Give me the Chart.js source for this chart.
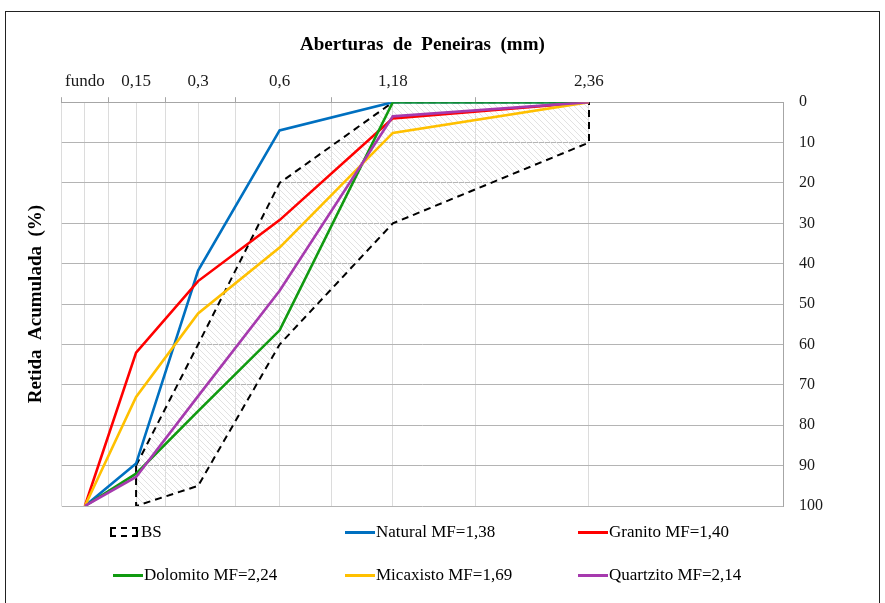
<!DOCTYPE html>
<html>
<head>
<meta charset="utf-8">
<script src="https://cdn.jsdelivr.net/npm/chart.js@4.4.0/dist/chart.umd.min.js"></script>
<style>
    html, body { margin: 0; padding: 0; background: #fff; }
    #wrap { position: absolute; left: 0; top: 0; width: 885px; height: 603px; }
    #frame {
        position: absolute; left: 5px; top: 11px; width: 875px; height: 600px;
        border: 1px solid #222; box-sizing: border-box; pointer-events: none;
    }
    .item {
        position: absolute; display: flex; align-items: center; white-space: nowrap;
        font: 17px "Liberation Serif", "Times New Roman", serif; color: #000;
        transform: translateY(-50%);
    }
    .swatch { width: 30px; height: 0; border-top: 3px solid; margin-right: 1px; }
    .swatch.bs { width: 24px; height: 6px; border: 2px dashed #000; margin-right: 3px; }
</style>
</head>
<body>
<div id="wrap">
    <canvas id="chart" width="885" height="603"></canvas>
    <div id="legend"></div>
    <div id="frame"></div>
</div>
<script>
// Sieve openings (top axis)
const sieves = ['fundo', '0,15', '0,3', '0,6', '1,18', '2,36'];
// abscissa of each sieve on the reference's non-uniform axis (0-100 across the plot)
const sievePos = [3.2, 10.3, 18.9, 30.2, 45.9, 73.1];
// short tick marks drawn on the top axis between sieves
const tickMarks = [0, 6.5, 14.4, 24.1, 37.4, 57.3];

// Cumulative retained (%), in sieve order: fundo .. 2,36
const natural   = [100, 89.5, 41.7, 7, 0, 0];
const granito   = [100, 62, 44.3, 29.2, 4, 0];
const dolomito  = [100, 92, 76.5, 56.5, 0, 0];
const micaxisto = [100, 73, 52.3, 36, 7.6, 0];
const quartzito = [100, 92.8, 72.8, 46.7, 3.5, 0];

// BS envelope, sieves 0,15 .. 2,36
const bsFine   = [90, 60, 20, 0, 0];
const bsCoarse = [100, 95, 60, 30, 10];

const FONT = '"Liberation Serif", "Times New Roman", serif';

const series = [
    { label: 'Natural MF=1,38',   data: natural,   color: '#0070C0' },
    { label: 'Granito MF=1,40',   data: granito,   color: '#FF0000' },
    { label: 'Dolomito MF=2,24',  data: dolomito,  color: '#109A10' },
    { label: 'Micaxisto MF=1,69', data: micaxisto, color: '#FFC000' },
    { label: 'Quartzito MF=2,14', data: quartzito, color: '#A63AAE' },
];

// Light diagonal hatch used inside the BS envelope
function hatchPattern() {
    const c = document.createElement('canvas');
    c.width = 6; c.height = 6;
    const g = c.getContext('2d');
    g.strokeStyle = '#e2e2e2';
    g.lineWidth = 1;
    g.beginPath();
    g.moveTo(-1, -1); g.lineTo(7, 7);
    g.moveTo(-1, 5); g.lineTo(1, 7);
    g.moveTo(5, -1); g.lineTo(7, 1);
    g.stroke();
    return g.createPattern(c, 'repeat');
}

// Closed outline: fine limit left to right, coarse limit back, then close
function bsOutline() {
    const pts = [];
    bsFine.forEach((v, i) => pts.push({ x: sievePos[i + 1], y: v }));
    for (let i = bsCoarse.length - 1; i >= 0; i--) {
        pts.push({ x: sievePos[i + 1], y: bsCoarse[i] });
    }
    pts.push(pts[0]);
    return pts;
}

const datasets = [{
    label: 'BS',
    data: bsOutline(),
    borderColor: '#000',
    borderWidth: 2,
    borderDash: [7, 5],
    backgroundColor: hatchPattern(),
    fill: 'shape',
    order: series.length + 1,
}];

series.forEach((s, i) => {
    datasets.push({
        label: s.label,
        data: s.data.map((v, j) => ({ x: sievePos[j], y: v })),
        borderColor: s.color,
        backgroundColor: s.color,
        borderWidth: 2.6,
        fill: false,
        order: series.length - i,
    });
});

new Chart(document.getElementById('chart').getContext('2d'), {
    type: 'scatter',
    data: { datasets: datasets },
    options: {
        responsive: false,
        animation: false,
        devicePixelRatio: 1,
        showLine: true,
        elements: {
            point: { radius: 0, hoverRadius: 0 },
            line: { tension: 0 }
        },
        layout: { padding: { left: 13, right: 46, top: 16, bottom: 97 } },
        plugins: {
            legend: { display: false },
            tooltip: { enabled: false }
        },
        scales: {
            x: {
                type: 'linear',
                position: 'top',
                min: 0,
                max: 100,
                afterBuildTicks: axis => {
                    axis.ticks = [...sievePos, ...tickMarks]
                        .sort((a, b) => a - b)
                        .map(v => ({ value: v }));
                },
                ticks: {
                    autoSkip: false,
                    maxRotation: 0,
                    padding: 5,
                    color: '#1a1a1a',
                    font: { family: FONT, size: 17 },
                    callback: v => {
                        const i = sievePos.indexOf(v);
                        return i >= 0 ? sieves[i] : '';
                    }
                },
                grid: {
                    color: '#dcdcdc',
                    tickLength: 5,
                    tickColor: ctx => tickMarks.includes(ctx.tick.value) ? '#a6a6a6' : 'rgba(0,0,0,0)'
                },
                border: { color: '#a6a6a6' },
                title: {
                    display: true,
                    text: 'Aberturas  de  Peneiras  (mm)',
                    color: '#000',
                    font: { family: FONT, size: 19, weight: 'bold' },
                    padding: { top: 18, bottom: 10 }
                }
            },
            y: {
                position: 'right',
                reverse: true,
                min: 0,
                max: 100,
                ticks: {
                    stepSize: 10,
                    padding: 16,
                    color: '#1a1a1a',
                    font: { family: FONT, size: 16 }
                },
                grid: { color: '#b4b4b4', drawTicks: false },
                border: { color: '#a6a6a6' }
            },
            yl: {
                position: 'left',
                ticks: { display: false },
                grid: { display: false, drawTicks: false },
                border: { display: false },
                title: {
                    display: true,
                    text: 'Retida  Acumulada  (%)',
                    color: '#000',
                    font: { family: FONT, size: 19, weight: 'bold' },
                    padding: { top: 12, bottom: 14 }
                }
            }
        }
    }
});

// Legend in a 3-column grid like the reference
const legendCols = [110, 345, 578];
const legendRows = [532, 575];
const legend = document.getElementById('legend');
datasets.forEach((ds, i) => {
    const item = document.createElement('div');
    item.className = 'item';
    item.style.left = (legendCols[i % 3] + (i === 3 ? 3 : 0)) + 'px';
    item.style.top = legendRows[Math.floor(i / 3)] + 'px';
    const sw = document.createElement('span');
    if (ds.label === 'BS') {
        sw.className = 'swatch bs';
    } else {
        sw.className = 'swatch';
        sw.style.borderTopColor = ds.borderColor;
    }
    const txt = document.createElement('span');
    txt.textContent = ds.label;
    item.appendChild(sw);
    item.appendChild(txt);
    legend.appendChild(item);
});
</script>
</body>
</html>
